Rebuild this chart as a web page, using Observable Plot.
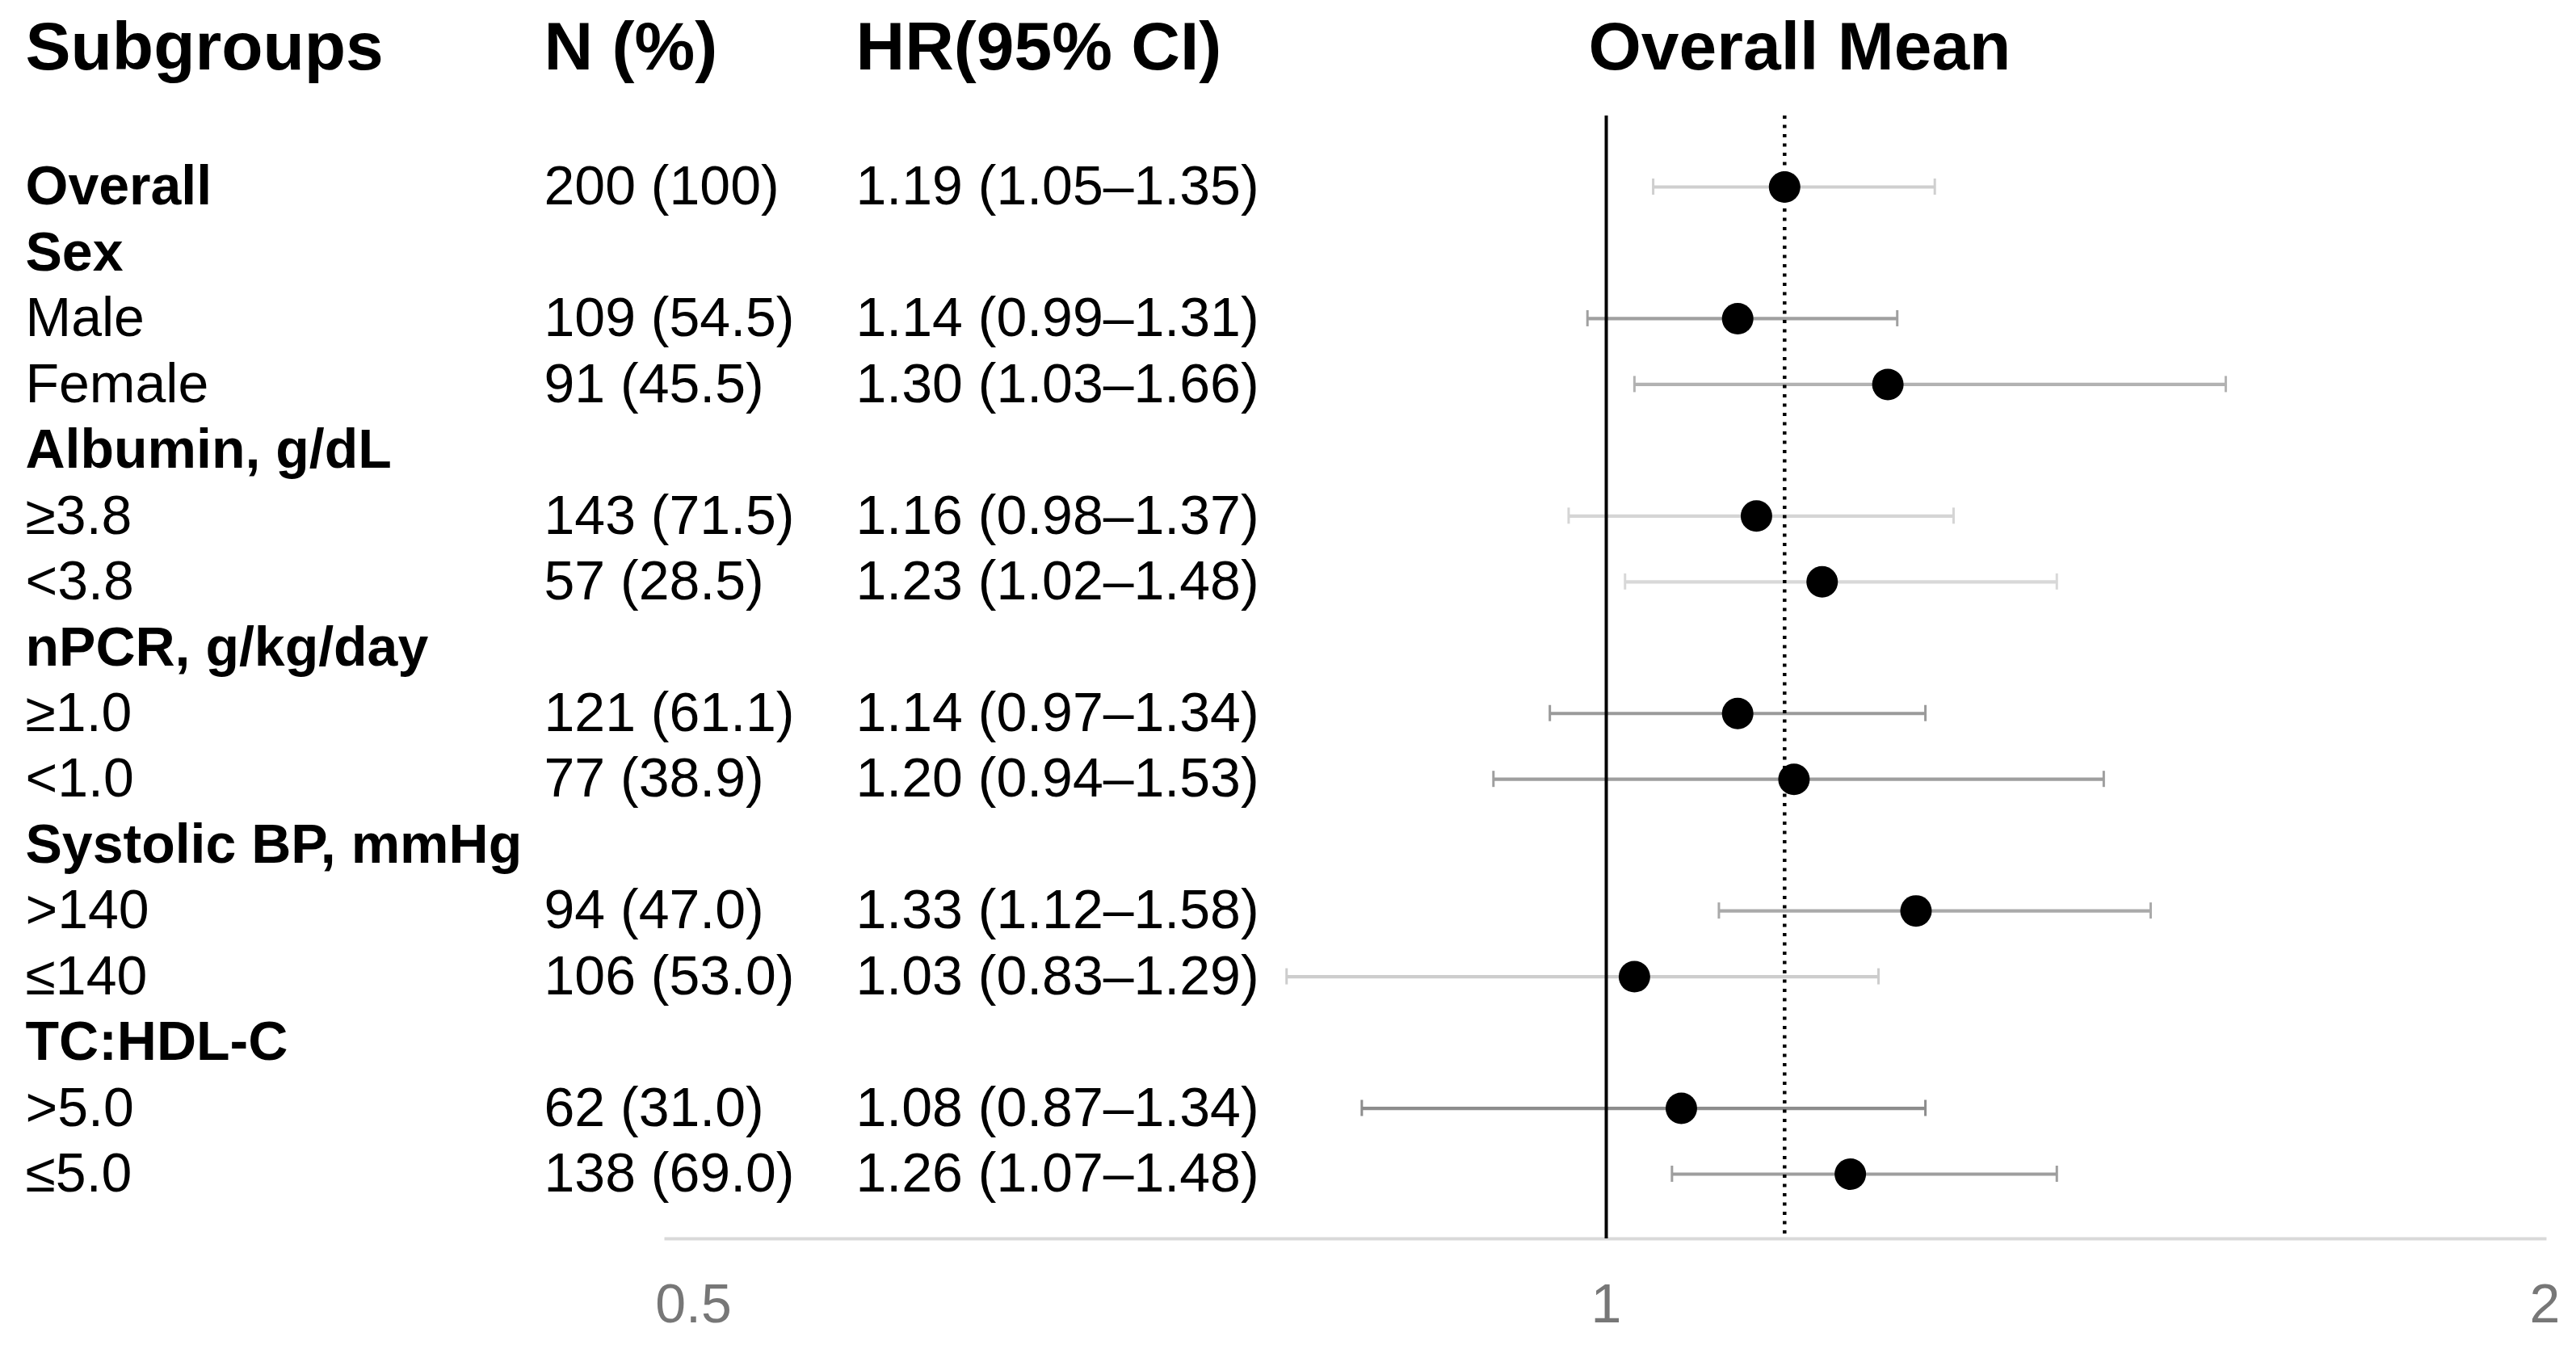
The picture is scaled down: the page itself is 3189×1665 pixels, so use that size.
<!DOCTYPE html>
<html><head><meta charset="utf-8">
<script src="https://cdn.jsdelivr.net/npm/d3@7"></script>
<script src="https://cdn.jsdelivr.net/npm/@observablehq/plot@0.6"></script>
<style>
html,body{margin:0;padding:0;background:#fff;}
#chart svg{display:block;}
</style></head><body><div id="chart"></div>
<script>
// ---- data ----
const subgroups = ["Overall","Sex","Male","Female","Albumin, g/dL","≥3.8","<3.8","nPCR, g/kg/day","≥1.0","<1.0","Systolic BP, mmHg",">140","≤140","TC:HDL-C",">5.0","≤5.0"];
const isHeading = [true,true,false,false,true,false,false,true,false,false,true,false,false,true,false,false];
const nPct = ["200 (100)","","109 (54.5)","91 (45.5)","","143 (71.5)","57 (28.5)","","121 (61.1)","77 (38.9)","","94 (47.0)","106 (53.0)","","62 (31.0)","138 (69.0)"];
const hr    = [1.19,null,1.14,1.30,null,1.16,1.23,null,1.14,1.20,null,1.33,1.03,null,1.08,1.26];
const lower = [1.05,null,0.99,1.03,null,0.98,1.02,null,0.97,0.94,null,1.12,0.83,null,0.87,1.07];
const upper = [1.35,null,1.31,1.66,null,1.37,1.48,null,1.34,1.53,null,1.58,1.29,null,1.34,1.48];
const xTicks = [0.5, 1, 2];
const columnHeaders = ["Subgroups","N (%)","HR(95% CI)"];
const plotTitle = "Overall Mean";

// ---- table built from the arrays ----
const rows = subgroups.map((s, i) => ({
  i, label: s, heading: isHeading[i], n: nPct[i],
  hr: hr[i], lo: lower[i], hi: upper[i],
  ci: hr[i] == null ? "" : `${hr[i].toFixed(2)} (${lower[i].toFixed(2)}–${upper[i].toFixed(2)})`
}));
const est = rows.filter(d => d.hr != null);
const overallHR = rows[0].hr;

// per-row error bar greys (style)
const barGreys = ["#cfcfcf","#a0a0a0","#b2b2b2","#d5d5d5","#d8d8d8","#9a9a9a","#9e9e9e","#aaaaaa","#cdcdcd","#8d8d8d","#9e9e9e"];

const W = 3189, H = 1665;
const font = "'Liberation Sans', Arial, Helvetica, sans-serif";
const L = 824;          // left edge of the plot frame
const rowFont = 68, headFont = 84;

const chart = Plot.plot({
  width: W, height: H,
  marginLeft: L, marginRight: 39, marginTop: 143, marginBottom: 132,
  style: {fontFamily: font, background: "#fff", color: "#000", overflow: "visible"},
  x: {type: "linear", domain: [0.5, 1, 2], range: [L, 1988, 3150], axis: null},
  y: {domain: [0, 15], range: [231, 1453], axis: null},
  color: {type: "ordinal", domain: est.map(d => d.label), range: barGreys},
  marks: [
    Plot.frame({anchor: "bottom", stroke: "#d9d9d9", strokeWidth: 4}),
    Plot.ruleY(est, {y: "i", x1: "lo", x2: "hi", stroke: "label", strokeWidth: 4.2}),
    Plot.ruleX(est, {x: "lo", y1: "i", y2: "i", insetTop: -10, insetBottom: -10, stroke: "label", strokeWidth: 3}),
    Plot.ruleX(est, {x: "hi", y1: "i", y2: "i", insetTop: -10, insetBottom: -10, stroke: "label", strokeWidth: 3}),
    Plot.ruleX([1], {stroke: "#000", strokeWidth: 4}),
    Plot.ruleX([overallHR], {stroke: "#000", strokeWidth: 4.5, strokeDasharray: "4,7.5"}),
    Plot.dot(est, {x: "hr", y: "i", r: 19.5, fill: "#000", stroke: "none"}),
    // table columns
    Plot.text(rows.filter(d => d.heading), {y: "i", text: "label", frameAnchor: "left", textAnchor: "start", dx: 31 - L, fontSize: rowFont, fontWeight: "bold", fill: "#000"}),
    Plot.text(rows.filter(d => !d.heading), {y: "i", text: "label", frameAnchor: "left", textAnchor: "start", dx: 31 - L, fontSize: rowFont, fill: "#000"}),
    Plot.text(rows, {y: "i", text: "n", frameAnchor: "left", textAnchor: "start", dx: 673 - L, fontSize: rowFont, fill: "#000"}),
    Plot.text(rows, {y: "i", text: "ci", frameAnchor: "left", textAnchor: "start", dx: 1059 - L, fontSize: rowFont, fill: "#000"}),
    // column headers
    Plot.text([columnHeaders[0]], {frameAnchor: "top-left", textAnchor: "start", lineAnchor: "middle", dx: 31 - L, dy: -84, fontSize: headFont, fontWeight: "bold", fill: "#000"}),
    Plot.text([columnHeaders[1]], {frameAnchor: "top-left", textAnchor: "start", lineAnchor: "middle", dx: 673 - L, dy: -84, fontSize: headFont, fontWeight: "bold", fill: "#000"}),
    Plot.text([columnHeaders[2]], {frameAnchor: "top-left", textAnchor: "start", lineAnchor: "middle", dx: 1059 - L, dy: -84, fontSize: headFont, fontWeight: "bold", fill: "#000"}),
    Plot.text([plotTitle], {frameAnchor: "top-left", textAnchor: "start", lineAnchor: "middle", dx: 1966 - L, dy: -84, fontSize: headFont, fontWeight: "bold", fill: "#000"}),
    // x axis labels
    Plot.axisX([xTicks[0]], {tickSize: 0, tickPadding: 55, fontSize: rowFont, color: "#777", dx: 34, tickFormat: d => String(d)}),
    Plot.axisX(xTicks.slice(1), {tickSize: 0, tickPadding: 55, fontSize: rowFont, color: "#777", tickFormat: d => String(d)})
  ]
});
document.getElementById("chart").appendChild(chart);
</script>
</body></html>
